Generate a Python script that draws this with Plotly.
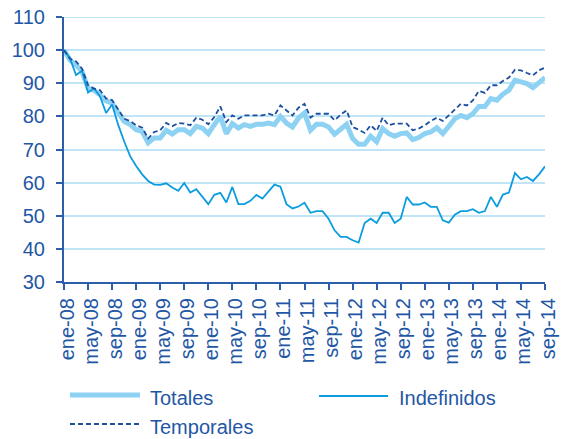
import plotly.graph_objects as go

month_abbr = ["ene", "feb", "mar", "abr", "may", "jun", "jul", "ago", "sep", "oct", "nov", "dic"]
months = [f"{month_abbr[m]}-{y:02d}" for y in range(8, 15) for m in range(12)][:81]
tick_labels = months[::4]

totales = [100, 97.0, 95.5, 93.5, 88.5, 87.8, 86.5, 84.7, 84.0, 81.0,
           78.5, 77.5, 76.0, 75.5, 72.0, 73.5, 73.5, 75.8, 74.7, 76.0,
           76.0, 74.8, 77.0, 76.5, 74.8, 77.5, 80.0, 74.8, 77.8, 76.5,
           77.5, 77.0, 77.6, 77.6, 78.0, 77.5, 80.0, 78.0, 76.8, 79.5,
           81.0, 75.8, 77.6, 77.6, 76.8, 74.6, 76.3, 77.6, 73.3, 71.6,
           71.6, 74.0, 72.3, 76.3, 74.8, 74.0, 74.8, 75.0, 73.0, 73.6,
           74.8, 75.3, 76.6, 74.8, 77.0, 79.3, 80.3, 79.6, 80.8, 83.0,
           83.0, 85.4, 84.9, 86.7, 87.9, 90.9, 90.4, 89.9, 88.7, 90.4,
           91.7]

indefinidos = [100, 97.5, 92.5, 93.8, 87.2, 88.4, 86.0, 81.0, 83.6, 77.5,
               72.5, 68.0, 65.0, 62.5, 60.5, 59.4, 59.3, 59.8, 58.5, 57.5,
               59.9, 57.0, 58.0, 55.7, 53.5, 56.3, 56.9, 54.0, 58.7, 53.5,
               53.5, 54.5, 56.3, 55.2, 57.2, 59.4, 58.8, 53.5, 52.2, 52.8,
               53.9, 50.9, 51.4, 51.4, 49.1, 45.6, 43.6, 43.6, 42.6, 41.9,
               47.8, 49.1, 47.8, 50.9, 50.9, 47.8, 49.1, 55.7, 53.4, 53.4,
               54.0, 52.7, 52.7, 48.6, 47.9, 50.3, 51.4, 51.4, 52.0, 50.9,
               51.4, 55.7, 52.7, 56.4, 57.0, 62.9, 61.0, 61.7, 60.5, 62.5,
               64.9]

temporales = [100, 97.4, 96.6, 94.4, 89.4, 88.4, 87.9, 85.4, 84.9, 82.3,
              79.3, 78.6, 77.3, 76.6, 73.3, 75.3, 75.8, 78.0, 77.0, 78.0,
              77.8, 77.3, 79.6, 79.0, 77.6, 79.8, 83.0, 78.3, 80.3, 79.3,
              80.3, 80.3, 80.3, 80.3, 80.8, 80.3, 83.3, 81.8, 80.3, 82.6,
              83.8, 79.6, 80.8, 80.8, 80.8, 78.8, 80.5, 81.8, 76.8, 76.0,
              75.0, 77.3, 75.6, 79.6, 77.3, 77.8, 77.8, 77.8, 75.8, 76.3,
              77.3, 78.6, 79.6, 78.6, 80.3, 82.0, 83.8, 83.3, 84.8, 87.7,
              87.1, 89.4, 89.4, 90.7, 91.7, 94.1, 93.9, 93.1, 92.4, 93.9,
              94.7]

series_names = ["Totales", "Indefinidos", "Temporales"]
y_min, y_max = 30, 110

TEXT = "#1f57a5"
AXIS = "#2c5ea9"
GRID = "#bfe5f6"
C_TOT = "#8dd2f2"
C_IND = "#0c9ce0"
C_TMP = "#1c4f9f"
FONT = "Liberation Sans, Arial, sans-serif"

W, H = 563, 439
L, R, T, B = 64, 18, 17, 157
PW, PH = W - L - R, H - T - B

fig = go.Figure()
fig.add_trace(go.Scatter(x=months, y=totales, name=series_names[0], mode="lines",
                         line=dict(color=C_TOT, width=5)))
fig.add_trace(go.Scatter(x=months, y=indefinidos, name=series_names[1], mode="lines",
                         line=dict(color=C_IND, width=1.8)))
fig.add_trace(go.Scatter(x=months, y=temporales, name=series_names[2], mode="lines",
                         line=dict(color=C_TMP, width=1.8, dash="5px,3px")))

fig.update_layout(
    width=W, height=H,
    margin=dict(l=L, r=R, t=T, b=B, autoexpand=False),
    paper_bgcolor="white", plot_bgcolor="white",
    showlegend=False,
    font=dict(family=FONT, size=20, color=TEXT),
    xaxis=dict(type="category", range=[0, 80], tickmode="array",
               tickvals=tick_labels, ticktext=tick_labels, tickangle=-90,
               ticks="outside", ticklen=6, tickwidth=2, tickcolor=AXIS,
               showline=True, linecolor=AXIS, linewidth=2, showgrid=False,
               tickfont=dict(size=20, color=TEXT), automargin=False,
               ticklabelshift=3),
    yaxis=dict(range=[y_min, y_max], dtick=10, ticks="outside", ticklen=6,
               tickwidth=2, tickcolor=AXIS, showline=True, linecolor=AXIS,
               linewidth=2, showgrid=True, gridcolor=GRID, gridwidth=2,
               zeroline=False, tickfont=dict(size=20, color=TEXT),
               ticklabelstandoff=7, automargin=False),
)

# top gridline (plotly omits gridlines lying on the axis ends)
fig.add_shape(type="line", xref="paper", yref="y", x0=0, x1=1, y0=y_max, y1=y_max,
              line=dict(color=GRID, width=2), layer="below")

def px2x(px):
    return (px - L) / PW

def py2y(py):
    return (H - B - py) / PH

legend_items = [
    (series_names[0], 70, 140, 395, 148, 398, dict(color=C_TOT, width=5)),
    (series_names[1], 319, 388, 396, 397, 398, dict(color=C_IND, width=2)),
    (series_names[2], 70, 140, 424, 148, 427, dict(color=C_TMP, width=2, dash="5px,3px")),
]
for name, x0, x1, ly, tx, ty, ln in legend_items:
    fig.add_shape(type="line", xref="paper", yref="paper",
                  x0=px2x(x0), x1=px2x(x1), y0=py2y(ly), y1=py2y(ly), line=ln)
    fig.add_annotation(xref="paper", yref="paper", x=px2x(tx), y=py2y(ty),
                       text=name, showarrow=False, xanchor="left", yanchor="middle",
                       font=dict(size=20, color=TEXT, family=FONT))

fig.write_html("out.html", config={"displayModeBar": False},
               post_script="document.body.style.margin='0';document.body.style.padding='0';")
